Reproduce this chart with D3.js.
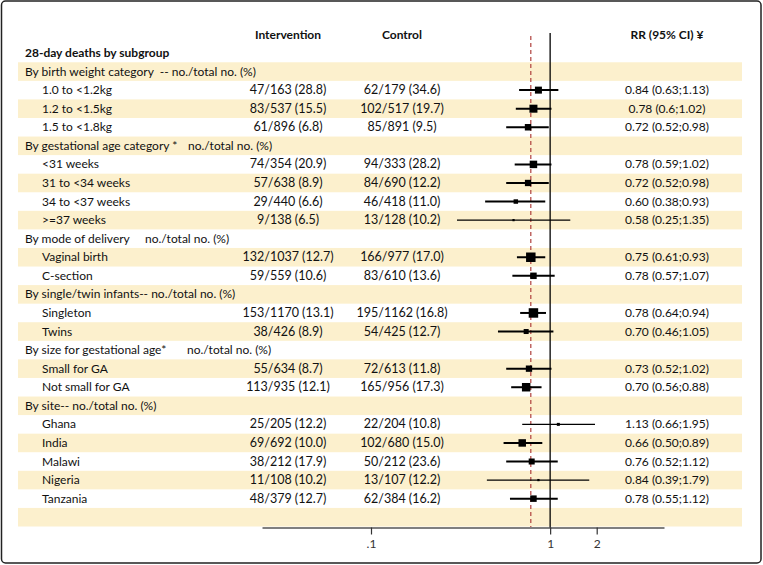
<!DOCTYPE html>
<html><head><meta charset="utf-8">
<script src="https://cdn.jsdelivr.net/npm/d3@7"></script>
<style>
html,body{margin:0;padding:0;background:#fff;}
text{font-family:Lato,"Noto Sans",sans-serif;white-space:pre;}
</style></head>
<body>
<svg id="chart" width="763" height="565"></svg>
<script>
// ---- data ----
const rowTypes = ["title","group","item","item","item","group","item","item","item","item",
  "group","item","item","group","item","item","group","item","item","group","item","item","item","item","item","blank"];
const rowLabels = ["28-day deaths by subgroup",
  "By birth weight category  -- no./total no. (%)","1.0 to <1.2kg","1.2 to <1.5kg","1.5 to <1.8kg",
  "By gestational age category *","<31 weeks","31 to <34 weeks","34 to <37 weeks",">=37 weeks",
  "By mode of delivery","Vaginal birth","C-section",
  "By single/twin infants-- no./total no. (%)","Singleton","Twins",
  "By size for gestational age*","Small for GA","Not small for GA",
  "By site-- no./total no. (%)","Ghana","India","Malawi","Nigeria","Tanzania",""];
const groupSuffix = [null,null,null,null,null,"no./total no. (%)",null,null,null,null,
  "no./total no. (%)",null,null,null,null,null,"no./total no. (%)",null,null,null,null,null,null,null,null,null];
const intervention = [null,null,"47/163 (28.8)","83/537 (15.5)","61/896 (6.8)",null,"74/354 (20.9)","57/638 (8.9)","29/440 (6.6)","9/138 (6.5)",
  null,"132/1037 (12.7)","59/559 (10.6)",null,"153/1170 (13.1)","38/426 (8.9)",null,"55/634 (8.7)","113/935 (12.1)",
  null,"25/205 (12.2)","69/692 (10.0)","38/212 (17.9)","11/108 (10.2)","48/379 (12.7)",null];
const control = [null,null,"62/179 (34.6)","102/517 (19.7)","85/891 (9.5)",null,"94/333 (28.2)","84/690 (12.2)","46/418 (11.0)","13/128 (10.2)",
  null,"166/977 (17.0)","83/610 (13.6)",null,"195/1162 (16.8)","54/425 (12.7)",null,"72/613 (11.8)","165/956 (17.3)",
  null,"22/204 (10.8)","102/680 (15.0)","50/212 (23.6)","13/107 (12.2)","62/384 (16.2)",null];
const rr  = [null,null,0.84,0.78,0.72,null,0.78,0.72,0.60,0.58,null,0.75,0.78,null,0.78,0.70,null,0.73,0.70,null,1.13,0.66,0.76,0.84,0.78,null];
const lo  = [null,null,0.63,0.6,0.52,null,0.59,0.52,0.38,0.25,null,0.61,0.57,null,0.64,0.46,null,0.52,0.56,null,0.66,0.50,0.52,0.39,0.55,null];
const hi  = [null,null,1.13,1.02,0.98,null,1.02,0.98,0.93,1.35,null,0.93,1.07,null,0.94,1.05,null,1.02,0.88,null,1.95,0.89,1.12,1.79,1.12,null];
const rrLabels = [null,null,"0.84 (0.63;1.13)","0.78 (0.6;1.02)","0.72 (0.52;0.98)",null,"0.78 (0.59;1.02)","0.72 (0.52;0.98)","0.60 (0.38;0.93)","0.58 (0.25;1.35)",
  null,"0.75 (0.61;0.93)","0.78 (0.57;1.07)",null,"0.78 (0.64;0.94)","0.70 (0.46;1.05)",null,"0.73 (0.52;1.02)","0.70 (0.56;0.88)",
  null,"1.13 (0.66;1.95)","0.66 (0.50;0.89)","0.76 (0.52;1.12)","0.84 (0.39;1.79)","0.78 (0.55;1.12)",null];
const weights = [null,null,49,64,42,null,56,40,20,5,null,90,42,null,90,25,null,40,72,null,9,56,36,5,42,null];
const shaded = [false,true,false,true,false,true,false,true,false,true,false,true,false,true,false,true,false,true,false,true,false,true,false,true,false,true];
const overallRR = 0.75;
const headers = ["Intervention","Control","RR (95% CI) \u00a5"];
const tickValues = [0.1, 1, 2];
const tickLabels = [".1","1","2"];

// ---- layout ----
const svg = d3.select("#chart");
const idx = d3.range(rowLabels.length);
const y = d3.scaleBand().domain(idx).range([43.7, 526.5]).padding(0);
const yc = i => y(i) + y.bandwidth()/2;
const x = d3.scaleLog().domain([0.03, 0.1, 0.25, 2, 5.5]).range([262, 371, 457, 596.7, 664]);
const colInt = 288, colCtl = 402, colRR = 667;
const size = d3.scaleSqrt().domain([0, 100]).range([0, 10]);

// frame
svg.append("rect").attr("x",1.5).attr("y",1).attr("width",759.5).attr("height",562)
  .attr("rx",4).attr("fill","#fff").attr("stroke","#222").attr("stroke-width",1.5);

// bands
svg.selectAll("rect.band").data(idx.filter(i => shaded[i])).join("rect")
  .attr("class","band").attr("x",18).attr("width",724)
  .attr("y",i => y(i)).attr("height",y.bandwidth()).attr("fill","#fcf0cd");

// headers
svg.selectAll("text.hdr").data(headers).join("text").attr("class","hdr")
  .attr("x",(d,i)=>[colInt,colCtl,colRR][i]).attr("y",39).attr("text-anchor","middle")
  .attr("font-size",12).attr("font-weight","bold").attr("fill","#111").text(d=>d);

// row labels
svg.selectAll("text.lab").data(idx).join("text").attr("class","lab")
  .attr("x",i => rowTypes[i]==="item" ? 42 : 25)
  .attr("y",i => yc(i)+4)
  .attr("font-size",12)
  .attr("font-weight",i => rowTypes[i]==="title" ? "bold" : "normal")
  .attr("fill","#111").text(i => rowLabels[i]);

const suffixX = {5:188, 10:145, 16:187};
svg.selectAll("text.suf").data(idx.filter(i => groupSuffix[i])).join("text").attr("class","suf")
  .attr("x",i => suffixX[i]).attr("y",i => yc(i)+4).attr("font-size",12).attr("fill","#111")
  .text(i => groupSuffix[i]);

const items = idx.filter(i => rowTypes[i]==="item");
svg.selectAll("text.int").data(items).join("text").attr("class","int")
  .attr("x",colInt).attr("y",i=>yc(i)+4).attr("text-anchor","middle").attr("font-size",12.5).attr("fill","#111")
  .text(i=>intervention[i]);
svg.selectAll("text.ctl").data(items).join("text").attr("class","ctl")
  .attr("x",colCtl).attr("y",i=>yc(i)+4).attr("text-anchor","middle").attr("font-size",12.5).attr("fill","#111")
  .text(i=>control[i]);
svg.selectAll("text.rr").data(items).join("text").attr("class","rr")
  .attr("x",colRR).attr("y",i=>yc(i)+4).attr("text-anchor","middle").attr("font-size",12).attr("fill","#111")
  .text(i=>rrLabels[i]);

// reference lines
svg.append("line").attr("x1",x(1)).attr("x2",x(1)).attr("y1",33).attr("y2",527.5)
  .attr("stroke","#000").attr("stroke-width",1.3);
svg.append("line").attr("x1",x(overallRR)).attr("x2",x(overallRR)).attr("y1",36).attr("y2",527)
  .attr("stroke","#b0413e").attr("stroke-width",1.2).attr("stroke-dasharray","4,3");

// CIs
svg.selectAll("line.ci").data(items).join("line").attr("class","ci")
  .attr("x1",i=>x(lo[i])).attr("x2",i=>x(hi[i])).attr("y1",i=>yc(i)).attr("y2",i=>yc(i))
  .attr("stroke","#000").attr("stroke-width",i => weights[i] < 10 ? 1.3 : 2);
svg.selectAll("rect.pt").data(items).join("rect").attr("class","pt")
  .attr("x",i=>x(rr[i]) - size(weights[i])/2).attr("y",i=>yc(i) - size(weights[i])/2)
  .attr("width",i=>size(weights[i])).attr("height",i=>size(weights[i])).attr("fill","#000");

// axis
const ax = d3.axisBottom(x).tickValues(tickValues).tickFormat((d,i)=>tickLabels[i]).tickSizeInner(7).tickSizeOuter(0);
const g = svg.append("g").attr("transform","translate(0,527.5)").call(ax);
g.select(".domain").attr("stroke","#000").attr("stroke-width",1.2);
g.selectAll(".tick line").attr("stroke","#333").attr("stroke-width",1.2);
g.selectAll(".tick text").attr("font-family","Lato, sans-serif").attr("font-size",12).attr("fill","#333").attr("dy","0.9em");
</script>
</body></html>
